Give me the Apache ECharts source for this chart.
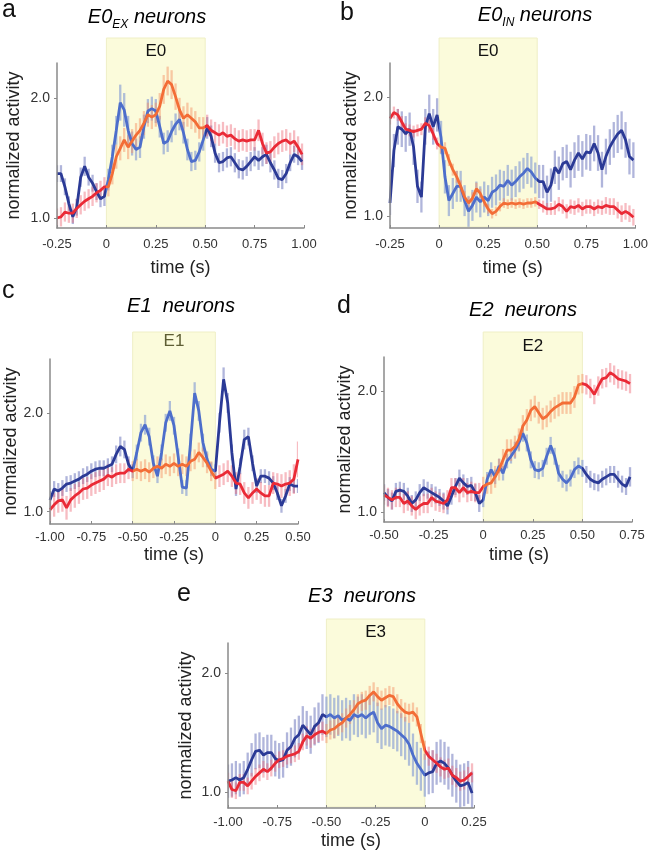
<!DOCTYPE html>
<html><head><meta charset="utf-8">
<script src="https://cdn.jsdelivr.net/npm/echarts@6/dist/echarts.min.js"></script>
<style>html,body{margin:0;padding:0;background:#fff}#c{width:651px;height:853px}</style>
</head><body><div id="c"></div>
<script>
// ---------- DATA ----------
// sample times: start + i*step
const aT0 = -0.25, aStep = 0.02;
const bT0 = -0.25, bStep = 0.02;
const cT0 = -1.00, cStep = 0.025;
const dT0 = -0.50, dStep = 0.02;
const eT0 = -1.00, eStep = 0.02;

// event windows (shaded boxes)
const aBox = [0, 0.5], bBox = [0, 0.5], cBox = [-0.5, 0], dBox = [0, 0.5], eBox = [-0.5, 0];
const boxLabels = ['E0', 'E0', 'E1', 'E2', 'E3'];

// tick values / labels
const aXTicks = [-0.25, 0, 0.25, 0.5, 0.75, 1.0];
const aXLabels = ['-0.25', '0', '0.25', '0.50', '0.75', '1.00'];
const bXTicks = [-0.25, 0, 0.25, 0.5, 0.75, 1.0];
const bXLabels = ['-0.25', '0', '0.25', '0.50', '0.75', '1.00'];
const cXTicks = [-1.0, -0.75, -0.5, -0.25, 0, 0.25, 0.5];
const cXLabels = ['-1.00', '-0.75', '-0.50', '-0.25', '0', '0.25', '0.50'];
const dXTicks = [-0.5, -0.25, 0, 0.25, 0.5, 0.75];
const dXLabels = ['-0.50', '-0.25', '0', '0.25', '0.50', '0.75'];
const eXTicks = [-1.0, -0.75, -0.5, -0.25, 0, 0.25];
const eXLabels = ['-1.00', '-0.75', '-0.50', '-0.25', '0', '0.25'];
const yTicks = [1.0, 2.0];
const yLabels = ['1.0', '2.0'];

// panel a
const aBlue = [1.37,1.37,1.26,1.12,1.01,1.09,1.34,1.43,1.34,1.29,1.22,1.16,1.18,
  1.32,1.51,1.73,1.96,1.90,1.73,1.62,1.57,1.59,1.76,
  1.89,1.91,1.89,1.76,1.62,1.64,1.72,1.78,1.82,1.71,
  1.57,1.47,1.48,1.55,1.65,1.75,1.68,1.54,1.46,1.47,
  1.50,1.51,1.46,1.41,1.40,1.43,1.47,1.51,1.48,1.51,
  1.53,1.46,1.40,1.33,1.32,1.37,1.46,1.53,1.51,1.47];
const aBlueErr = [0.07,0.07,0.07,0.06,0.06,0.07,0.08,0.08,0.07,0.07,0.07,0.07,0.08,
  0.09,0.10,0.12,0.15,0.14,0.12,0.10,0.09,0.09,0.10,
  0.10,0.10,0.10,0.09,0.09,0.09,0.09,0.09,0.09,0.09,
  0.09,0.08,0.08,0.08,0.09,0.09,0.09,0.08,0.08,0.08,
  0.08,0.08,0.08,0.08,0.08,0.08,0.08,0.08,0.08,0.08,
  0.08,0.08,0.08,0.08,0.08,0.08,0.07,0.07,0.07,0.07];
const aRed = [1.00,1.01,1.05,1.04,1.04,1.08,1.11,1.14,1.16,1.18,1.21,1.23,1.26,
  1.26,1.37,1.51,1.58,1.65,1.59,1.64,1.69,1.73,1.79,
  1.86,1.84,1.86,1.93,2.07,2.14,2.11,2.01,1.90,1.83,
  1.86,1.83,1.80,1.75,1.75,1.77,1.73,1.71,1.69,1.71,
  1.68,1.69,1.66,1.64,1.65,1.64,1.65,1.65,1.73,1.62,
  1.54,1.55,1.59,1.62,1.64,1.65,1.62,1.64,1.59,1.53];
const aRedErr = [0.08,0.08,0.08,0.08,0.08,0.08,0.08,0.08,0.08,0.08,0.08,0.08,0.08,
  0.08,0.09,0.10,0.10,0.10,0.10,0.10,0.10,0.10,0.10,
  0.10,0.10,0.10,0.11,0.12,0.12,0.12,0.11,0.10,0.10,
  0.10,0.09,0.09,0.09,0.09,0.09,0.09,0.09,0.09,0.09,
  0.09,0.09,0.09,0.09,0.09,0.09,0.09,0.09,0.09,0.09,
  0.09,0.09,0.09,0.09,0.09,0.09,0.09,0.09,0.09,0.09];

// panel b
const bBlue = [1.11,1.55,1.75,1.73,1.69,1.73,1.58,1.25,1.16,1.75,1.86,1.75,1.85,
  1.66,1.33,1.13,1.19,1.25,1.25,1.13,1.04,1.09,1.16,
  1.12,1.16,1.13,1.20,1.22,1.26,1.25,1.30,1.26,1.29,
  1.33,1.36,1.40,1.37,1.32,1.29,1.29,1.20,1.26,1.41,
  1.36,1.44,1.46,1.39,1.47,1.53,1.48,1.54,1.53,1.61,
  1.53,1.39,1.50,1.58,1.64,1.69,1.72,1.64,1.50,1.47];
const bBlueErr = [0.10,0.14,0.15,0.15,0.15,0.14,0.15,0.14,0.13,0.15,0.16,0.15,0.14,
  0.14,0.14,0.13,0.13,0.13,0.13,0.13,0.13,0.13,0.13,
  0.13,0.13,0.13,0.13,0.13,0.13,0.13,0.13,0.13,0.13,
  0.13,0.13,0.13,0.13,0.13,0.14,0.14,0.14,0.14,0.14,
  0.14,0.14,0.14,0.15,0.15,0.15,0.15,0.15,0.15,0.15,
  0.15,0.15,0.15,0.15,0.15,0.16,0.16,0.15,0.15,0.15];
const bRed = [1.82,1.87,1.85,1.79,1.73,1.72,1.71,1.72,1.73,1.78,1.76,1.69,1.61,
  1.58,1.57,1.47,1.39,1.33,1.25,1.16,1.11,1.15,1.23,
  1.19,1.12,1.06,1.02,1.04,1.08,1.11,1.10,1.11,1.10,
  1.11,1.10,1.11,1.11,1.12,1.10,1.08,1.06,1.06,1.07,
  1.10,1.08,1.04,1.08,1.07,1.09,1.06,1.08,1.08,1.06,
  1.08,1.07,1.09,1.08,1.08,1.05,1.02,1.04,1.02,0.99];
const bRedErr = [0.05,0.05,0.05,0.05,0.05,0.05,0.05,0.05,0.05,0.05,0.05,0.05,0.05,
  0.05,0.05,0.05,0.05,0.05,0.05,0.05,0.05,0.05,0.05,
  0.04,0.04,0.04,0.04,0.04,0.04,0.04,0.04,0.04,0.04,
  0.04,0.04,0.04,0.04,0.04,0.04,0.05,0.05,0.05,0.06,
  0.06,0.06,0.06,0.06,0.06,0.06,0.06,0.06,0.06,0.06,
  0.06,0.06,0.07,0.07,0.07,0.07,0.07,0.07,0.07,0.07];

// panel c
const cBlue = [1.12,1.23,1.21,1.24,1.28,1.29,1.31,1.33,1.36,1.38,
  1.41,1.43,1.44,1.44,1.46,1.48,1.58,1.66,1.63,1.48,
  1.41,1.60,1.80,1.88,1.76,1.49,1.36,1.60,1.90,2.02,
  1.87,1.56,1.25,1.24,1.70,2.20,2.02,1.70,1.53,1.43,
  1.41,1.90,2.34,2.10,1.60,1.23,1.46,1.73,1.76,1.49,
  1.26,1.36,1.36,1.34,1.29,1.19,1.06,1.16,1.28,1.26,
  1.26];
const cBlueErr = [0.09,0.08,0.08,0.08,0.08,0.08,0.08,0.08,0.08,0.08,
  0.08,0.08,0.08,0.08,0.08,0.08,0.09,0.10,0.09,0.08,
  0.07,0.08,0.09,0.10,0.09,0.08,0.07,0.08,0.09,0.10,
  0.09,0.08,0.07,0.08,0.09,0.11,0.10,0.09,0.08,0.07,
  0.07,0.10,0.12,0.10,0.08,0.07,0.08,0.10,0.09,0.08,
  0.07,0.07,0.07,0.07,0.07,0.07,0.07,0.07,0.07,0.07,
  0.07];
const cRed = [1.02,1.07,1.11,1.12,1.04,1.12,1.16,1.19,1.23,1.24,
  1.27,1.29,1.31,1.33,1.37,1.35,1.38,1.39,1.39,1.43,
  1.41,1.43,1.41,1.43,1.40,1.44,1.46,1.44,1.48,1.46,
  1.49,1.46,1.48,1.46,1.51,1.53,1.60,1.55,1.49,1.41,
  1.34,1.36,1.38,1.41,1.36,1.29,1.28,1.19,1.14,1.19,
  1.23,1.19,1.16,1.16,1.29,1.28,1.26,1.28,1.29,1.33,
  1.53];
const cRedErr = [0.12,0.12,0.12,0.12,0.12,0.12,0.12,0.11,0.11,0.11,
  0.11,0.11,0.11,0.11,0.11,0.10,0.10,0.10,0.10,0.10,
  0.10,0.10,0.10,0.10,0.10,0.10,0.10,0.10,0.10,0.10,
  0.10,0.10,0.10,0.10,0.10,0.10,0.10,0.10,0.10,0.10,
  0.11,0.11,0.11,0.11,0.11,0.11,0.11,0.11,0.11,0.11,
  0.11,0.11,0.11,0.11,0.11,0.11,0.12,0.12,0.13,0.15,
  0.18];

// panel d
const dBlue = [1.16,1.12,1.09,1.17,1.18,1.17,1.13,1.07,1.10,1.16,
  1.20,1.18,1.16,1.14,1.12,1.09,1.05,1.13,1.21,1.28,
  1.24,1.21,1.22,1.16,1.07,1.10,1.27,1.35,1.29,1.38,
  1.32,1.42,1.46,1.51,1.57,1.65,1.57,1.43,1.35,1.34,
  1.36,1.46,1.55,1.46,1.32,1.27,1.24,1.28,1.35,1.38,
  1.36,1.31,1.27,1.25,1.24,1.27,1.29,1.31,1.31,1.27,
  1.23,1.21,1.29];
const dBlueErr = [0.07,0.07,0.07,0.07,0.07,0.07,0.07,0.07,0.07,0.07,
  0.07,0.07,0.07,0.07,0.07,0.07,0.07,0.07,0.07,0.07,
  0.07,0.07,0.07,0.07,0.07,0.06,0.06,0.06,0.06,0.06,
  0.06,0.06,0.06,0.07,0.07,0.07,0.07,0.07,0.07,0.07,
  0.07,0.07,0.07,0.07,0.07,0.07,0.07,0.07,0.07,0.07,
  0.07,0.07,0.07,0.07,0.07,0.07,0.07,0.07,0.07,0.07,
  0.07,0.07,0.08];
const dRed = [1.14,1.12,1.10,1.12,1.12,1.07,1.09,1.05,1.02,1.05,
  1.07,1.07,1.12,1.09,1.08,1.07,1.10,1.20,1.20,1.16,
  1.20,1.16,1.17,1.16,1.16,1.21,1.23,1.24,1.29,1.35,
  1.43,1.51,1.51,1.54,1.60,1.71,1.76,1.84,1.87,1.82,
  1.77,1.79,1.83,1.86,1.88,1.90,1.90,1.90,1.95,2.05,
  2.06,2.05,2.02,1.97,2.04,2.10,2.11,2.15,2.13,2.10,
  2.09,2.08,2.06];
const dRedErr = [0.08,0.08,0.08,0.08,0.08,0.08,0.08,0.08,0.08,0.08,
  0.08,0.08,0.08,0.08,0.08,0.08,0.08,0.08,0.08,0.08,
  0.08,0.08,0.08,0.08,0.08,0.08,0.08,0.09,0.09,0.09,
  0.09,0.09,0.09,0.09,0.09,0.09,0.09,0.09,0.09,0.09,
  0.09,0.09,0.09,0.09,0.09,0.09,0.09,0.09,0.09,0.08,
  0.08,0.08,0.08,0.08,0.08,0.08,0.08,0.08,0.08,0.08,
  0.08,0.08,0.08];

// panel e
const eBlue = [1.09,1.10,1.12,1.10,1.12,1.19,1.27,1.34,1.35,1.31,
  1.33,1.33,1.28,1.26,1.27,1.35,1.38,1.45,1.48,1.56,
  1.52,1.48,1.55,1.58,1.65,1.63,1.65,1.62,1.64,1.60,
  1.62,1.60,1.65,1.63,1.65,1.62,1.65,1.67,1.58,1.53,
  1.56,1.55,1.53,1.51,1.48,1.45,1.40,1.31,1.24,1.19,
  1.14,1.16,1.17,1.24,1.26,1.24,1.20,1.14,1.09,1.05,
  1.06,1.08,0.99];
const eBlueErr = [0.14,0.14,0.14,0.14,0.14,0.14,0.14,0.15,0.15,0.15,
  0.15,0.15,0.15,0.15,0.15,0.15,0.16,0.16,0.16,0.16,
  0.16,0.16,0.16,0.17,0.17,0.17,0.17,0.17,0.17,0.17,
  0.17,0.17,0.17,0.17,0.17,0.17,0.17,0.17,0.17,0.17,
  0.17,0.17,0.17,0.17,0.18,0.18,0.18,0.18,0.18,0.18,
  0.18,0.18,0.18,0.18,0.18,0.18,0.18,0.18,0.18,0.18,
  0.18,0.18,0.18];
const eRed = [1.09,1.02,1.01,1.08,1.08,1.05,1.09,1.13,1.16,1.19,
  1.17,1.20,1.24,1.27,1.28,1.30,1.31,1.32,1.34,1.42,
  1.47,1.45,1.48,1.50,1.51,1.49,1.52,1.53,1.56,1.58,
  1.62,1.65,1.69,1.74,1.76,1.77,1.81,1.84,1.80,1.77,
  1.79,1.81,1.80,1.74,1.70,1.67,1.66,1.67,1.63,1.49,
  1.35,1.30,1.27,1.24,1.21,1.19,1.20,1.14,1.12,1.09,
  1.10,1.13,1.16];
const eRedErr = [0.07,0.07,0.07,0.07,0.07,0.07,0.07,0.07,0.07,0.07,
  0.07,0.07,0.07,0.07,0.07,0.07,0.07,0.07,0.07,0.07,
  0.08,0.08,0.08,0.08,0.08,0.08,0.08,0.08,0.08,0.08,
  0.08,0.08,0.08,0.08,0.08,0.08,0.08,0.08,0.08,0.08,
  0.08,0.08,0.08,0.08,0.08,0.08,0.08,0.08,0.08,0.08,
  0.08,0.08,0.08,0.08,0.08,0.08,0.08,0.08,0.08,0.08,
  0.08,0.08,0.08];

// ---------- STYLE / LAYOUT ----------
const FONT = '"Liberation Sans", Arial, Helvetica, sans-serif';
const C = {
  blueOut: '#2b3a96', blueIn: '#4d6ecb',
  redOut: '#ea2a36', redIn: '#f36d36',
  blueErrOut: 'rgba(80,90,175,0.45)', blueErrIn: 'rgba(100,130,212,0.5)',
  redErrOut: 'rgba(236,95,110,0.42)', redErrIn: 'rgba(245,145,100,0.48)',
  box: '#fbfbdb', boxStroke: '#efefc6', axis: '#8a8a8a', text: '#333'
};

const panels = [
  {grid:{left:57,top:63,width:247,height:165}, xMin:-0.25, xMax:1.0, xTicks:aXTicks, xLabels:aXLabels,
   yMin:0.917, yMax:2.29, box:aBox, boxLabel:boxLabels[0], boxLabelColor:'#111', boxAbove:25, labelDy:13,
   t0:aT0, step:aStep, blue:aBlue, blueErr:aBlueErr, red:aRed, redErr:aRedErr,
   yNameGap:34, xNameGap:31, xLabelMargin:10, xNamePad:[0,0,0,0]},
  {grid:{left:390,top:63,width:247,height:165}, xMin:-0.25, xMax:1.0, xTicks:bXTicks, xLabels:bXLabels,
   yMin:0.90, yMax:2.286, box:bBox, boxLabel:boxLabels[1], boxLabelColor:'#111', boxAbove:25, labelDy:13,
   t0:bT0, step:bStep, blue:bBlue, blueErr:bBlueErr, red:bRed, redErr:bRedErr,
   yNameGap:27, xNameGap:31, xLabelMargin:10, xNamePad:[0,0,0,0]},
  {grid:{left:50,top:359,width:248,height:165}, xMin:-1.0, xMax:0.5, xTicks:cXTicks, xLabels:cXLabels,
   yMin:0.876, yMax:2.545, box:cBox, boxLabel:boxLabels[2], boxLabelColor:'#5e5e34', boxAbove:27, labelDy:9,
   t0:cT0, step:cStep, blue:cBlue, blueErr:cBlueErr, red:cRed, redErr:cRedErr,
   yNameGap:26, xNameGap:22, xLabelMargin:7, xNamePad:[0,0,0,0]},
  {grid:{left:384,top:357,width:248,height:165}, xMin:-0.5, xMax:0.75, xTicks:dXTicks, xLabels:dXLabels,
   yMin:0.917, yMax:2.28, box:dBox, boxLabel:boxLabels[3], boxLabelColor:'#111', boxAbove:25, labelDy:14,
   t0:dT0, step:dStep, blue:dBlue, blueErr:dBlueErr, red:dRed, redErr:dRedErr,
   yNameGap:27, xNameGap:24, xLabelMargin:7, xNamePad:[0,0,0,22]},
  {grid:{left:228,top:643,width:246,height:165}, xMin:-1.0, xMax:0.25, xTicks:eXTicks, xLabels:eXLabels,
   yMin:0.865, yMax:2.25, box:eBox, boxLabel:boxLabels[4], boxLabelColor:'#111', boxAbove:24, labelDy:13,
   t0:eT0, step:eStep, blue:eBlue, blueErr:eBlueErr, red:eRed, redErr:eRedErr,
   yNameGap:33, xNameGap:24, xLabelMargin:8, xNamePad:[0,0,0,0]}
];

function rows(t0, step, vals, errs) {
  return vals.map((v, i) => [+(t0 + i * step).toFixed(4), v, errs[i]]);
}
function labelFor(ticks, labels) {
  return function (v) {
    for (let i = 0; i < ticks.length; i++) if (Math.abs(ticks[i] - v) < 1e-6) return labels[i];
    return '';
  };
}
function boxRender(p) {
  return function (params, api) {
    const a = api.coord([p.box[0], p.yMin]);
    const b = api.coord([p.box[1], p.yMax]);
    const top = b[1] - p.boxAbove;
    return {type:'group', children:[
      {type:'rect', shape:{x:a[0], y:top, width:b[0]-a[0], height:a[1]-top-1},
       style:{fill:C.box, stroke:C.boxStroke, lineWidth:1}},
      {type:'text', style:{x:(a[0]+b[0])/2, y:top+p.labelDy, text:p.boxLabel, fill:p.boxLabelColor,
       font:'17px ' + FONT, align:'center', verticalAlign:'middle'}}
    ]};
  };
}
function errRender(box, cin, cout) {
  return function (params, api) {
    const x = api.value(0), m = api.value(1), e = api.value(2);
    const p1 = api.coord([x, m - e]), p2 = api.coord([x, m + e]);
    const inside = x >= box[0] - 1e-9 && x <= box[1] + 1e-9;
    return {type:'line', shape:{x1:p1[0], y1:p1[1], x2:p2[0], y2:p2[1]},
            style:{stroke: inside ? cin : cout, lineWidth:2.3}};
  };
}

const grid = [], xAxis = [], yAxis = [], series = [], visualMap = [];
panels.forEach((p, k) => {
  grid.push(p.grid);
  xAxis.push({type:'value', gridIndex:k, min:p.xMin, max:p.xMax, interval:0.25, z:5,
    name:'time (s)', nameLocation:'middle', nameGap:p.xNameGap,
    nameTextStyle:{fontFamily:FONT, fontSize:18, color:'#222', padding:p.xNamePad},
    axisLine:{show:true, onZero:false, lineStyle:{color:C.axis, width:1.5}},
    axisTick:{show:true, inside:true, length:3, lineStyle:{color:C.axis}},
    splitLine:{show:false},
    axisLabel:{fontFamily:FONT, fontSize:13, color:C.text, margin:p.xLabelMargin,
      formatter:labelFor(p.xTicks, p.xLabels), showMinLabel:true, showMaxLabel:true}});
  yAxis.push({type:'value', gridIndex:k, min:p.yMin, max:p.yMax, z:5,
    name:'normalized activity', nameLocation:'middle', nameGap:p.yNameGap,
    nameTextStyle:{fontFamily:FONT, fontSize:18, color:'#222'},
    axisLine:{show:true, onZero:false, lineStyle:{color:C.axis, width:1.5}},
    axisTick:{show:true, length:3, customValues:yTicks, lineStyle:{color:C.axis}},
    splitLine:{show:false},
    axisLabel:{fontFamily:FONT, fontSize:14, color:C.text, margin:7, customValues:yTicks,
      formatter:labelFor(yTicks, yLabels)}});
  const base = series.length;
  series.push({type:'custom', xAxisIndex:k, yAxisIndex:k, z:1, clip:false, silent:true,
    renderItem:boxRender(p), encode:{x:[0,2], y:[1,3]},
    data:[[p.box[0], p.yMin, p.box[1], p.yMax]]});
  series.push({type:'custom', xAxisIndex:k, yAxisIndex:k, z:2, clip:true, silent:true,
    renderItem:errRender(p.box, C.blueErrIn, C.blueErrOut), encode:{x:0, y:1},
    data:rows(p.t0, p.step, p.blue, p.blueErr)});
  series.push({type:'custom', xAxisIndex:k, yAxisIndex:k, z:2, clip:true, silent:true,
    renderItem:errRender(p.box, C.redErrIn, C.redErrOut), encode:{x:0, y:1},
    data:rows(p.t0, p.step, p.red, p.redErr)});
  series.push({type:'line', xAxisIndex:k, yAxisIndex:k, z:3, showSymbol:false, silent:true,
    lineStyle:{width:2.8}, data:rows(p.t0, p.step, p.blue, p.blueErr).map(r => [r[0], r[1]])});
  series.push({type:'line', xAxisIndex:k, yAxisIndex:k, z:4, showSymbol:false, silent:true,
    lineStyle:{width:2.8}, data:rows(p.t0, p.step, p.red, p.redErr).map(r => [r[0], r[1]])});
  visualMap.push({type:'piecewise', show:false, seriesIndex:base+3, dimension:0,
    pieces:[{lt:p.box[0], color:C.blueOut}, {gte:p.box[0], lte:p.box[1], color:C.blueIn}, {gt:p.box[1], color:C.blueOut}]});
  visualMap.push({type:'piecewise', show:false, seriesIndex:base+4, dimension:0,
    pieces:[{lt:p.box[0], color:C.redOut}, {gte:p.box[0], lte:p.box[1], color:C.redIn}, {gt:p.box[1], color:C.redOut}]});
});

const titleRich = {
  m:{fontFamily:FONT, fontStyle:'italic', fontSize:20, color:'#222', lineHeight:28, verticalAlign:'middle'},
  s:{fontFamily:FONT, fontStyle:'italic', fontSize:12, color:'#222', lineHeight:12, verticalAlign:'bottom'}
};
function titleEl(text, x, y) {
  return {type:'text', x:x, y:y, z:10, style:{text:text, rich:titleRich, align:'center', verticalAlign:'middle'}};
}
function letterEl(text, x, y) {
  return {type:'text', x:x, y:y, z:10, style:{text:text, font:'25px ' + FONT, fill:'#111', align:'left', verticalAlign:'middle'}};
}
const graphic = [
  letterEl('a', 2, 10), letterEl('b', 340, 13), letterEl('c', 2, 291), letterEl('d', 337, 306), letterEl('e', 177, 594),
  titleEl('{m|E0}{s|EX}{m| neurons}', 147, 17),
  titleEl('{m|E0}{s|IN}{m| neurons}', 535, 15),
  titleEl('{m|E1  neurons}', 181, 306),
  titleEl('{m|E2  neurons}', 523, 310),
  titleEl('{m|E3  neurons}', 362, 596)
];

const chart = echarts.init(document.getElementById('c'), null, {renderer:'canvas', width:651, height:853});
chart.setOption({animation:false, backgroundColor:'#fff', grid, xAxis, yAxis, series, visualMap, graphic});
</script></body></html>
